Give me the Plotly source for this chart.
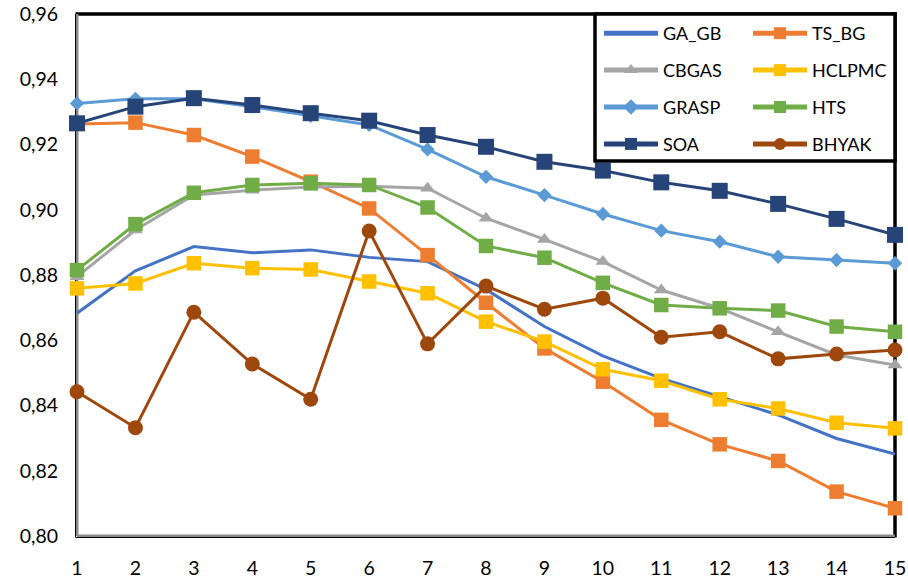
import plotly.graph_objects as go

# Instance index on the x axis
instances = list(range(1, 16))

ga_gb = [0.8683, 0.8813, 0.8887, 0.8868, 0.8877, 0.8854, 0.8841, 0.8756, 0.8642, 0.8552, 0.8483, 0.8427, 0.8371, 0.8299, 0.8251]
ts_bg = [0.9263, 0.9267, 0.9229, 0.9163, 0.9086, 0.9004, 0.8861, 0.8715, 0.8575, 0.8473, 0.8356, 0.8281, 0.8230, 0.8136, 0.8085]
cbgas = [0.8795, 0.8938, 0.9045, 0.9060, 0.9070, 0.9072, 0.9066, 0.8974, 0.8909, 0.8841, 0.8754, 0.8698, 0.8626, 0.8555, 0.8524]
hclpmc = [0.8759, 0.8774, 0.8836, 0.8821, 0.8817, 0.8780, 0.8744, 0.8657, 0.8596, 0.8511, 0.8476, 0.8419, 0.8391, 0.8347, 0.8330]
grasp = [0.9326, 0.9340, 0.9340, 0.9316, 0.9288, 0.9260, 0.9185, 0.9101, 0.9045, 0.8987, 0.8936, 0.8902, 0.8856, 0.8846, 0.8836]
hts = [0.8815, 0.8956, 0.9052, 0.9076, 0.9081, 0.9076, 0.9007, 0.8889, 0.8853, 0.8776, 0.8708, 0.8698, 0.8691, 0.8642, 0.8626]
soa = [0.9265, 0.9316, 0.9342, 0.9321, 0.9296, 0.9273, 0.9229, 0.9193, 0.9147, 0.9120, 0.9084, 0.9058, 0.9018, 0.8972, 0.8923]
bhyak = [0.8442, 0.8332, 0.8686, 0.8527, 0.8419, 0.8935, 0.8589, 0.8766, 0.8695, 0.8729, 0.8609, 0.8626, 0.8543, 0.8558, 0.8570]

y_ticks = [0.80, 0.82, 0.84, 0.86, 0.88, 0.90, 0.92, 0.94, 0.96]

FONT = "Lato"

# name, values, colour, marker symbol, marker size, legend id
series = [
    ("GA_GB", ga_gb, "#4472C4", None, 0, "legend"),
    ("TS_BG", ts_bg, "#ED7D31", "square", 14.5, "legend2"),
    ("CBGAS", cbgas, "#A5A5A5", "triangle-up", 13, "legend"),
    ("HCLPMC", hclpmc, "#FFC000", "square", 14.5, "legend2"),
    ("GRASP", grasp, "#5B9BD5", "diamond", 11, "legend"),
    ("HTS", hts, "#70AD47", "square", 14.5, "legend2"),
    ("SOA", soa, "#264478", "square", 16, "legend"),
    ("BHYAK", bhyak, "#9E480E", "circle", 15, "legend2"),
]

fig = go.Figure()
for name, vals, color, symbol, msize, leg in series:
    kw = dict(mode="lines")
    if symbol:
        kw = dict(mode="lines+markers",
                  marker=dict(symbol=symbol, size=msize, color=color,
                              line=dict(width=0)))
    fig.add_trace(go.Scatter(
        x=instances, y=vals, name=name, legend=leg, legendgroup=name,
        line=dict(color=color, width=3), cliponaxis=False, **kw))

px_x = 1 / 818.0
px_y = 1 / 522.0

shapes = [
    # white legend panel with heavy border
    dict(type="rect", xref="paper", yref="paper",
         x0=(595 - 77) * px_x, x1=1.0, y0=(536 - 161) * px_y, y1=1.0,
         fillcolor="white", line=dict(color="black", width=3.5), layer="above"),
    # top and right frame
    dict(type="line", xref="paper", yref="paper", x0=-1.5 * px_x, x1=1 + 1.5 * px_x,
         y0=1, y1=1, line=dict(color="black", width=3.5), layer="below"),
    dict(type="line", xref="paper", yref="paper", x0=1, x1=1,
         y0=-1.5 * px_y, y1=1 + 1.5 * px_y, line=dict(color="black", width=3.5), layer="below"),
    # left and bottom frame: double rule
    dict(type="line", xref="paper", yref="paper", x0=0, x1=0,
         y0=0, y1=1, line=dict(color="#8a8a8a", width=3), layer="below"),
    dict(type="line", xref="paper", yref="paper", x0=-1.5 * px_x, x1=-1.5 * px_x,
         y0=-1.5 * px_y, y1=1, line=dict(color="black", width=1), layer="below"),
    dict(type="line", xref="paper", yref="paper", x0=0, x1=1,
         y0=0, y1=0, line=dict(color="#8a8a8a", width=3), layer="below"),
    dict(type="line", xref="paper", yref="paper", x0=-1.5 * px_x, x1=1,
         y0=-1.5 * px_y, y1=-1.5 * px_y, line=dict(color="black", width=1), layer="below"),
]

legend_common = dict(
    orientation="v", traceorder="grouped", tracegroupgap=10.5,
    bgcolor="rgba(0,0,0,0)", borderwidth=0, itemwidth=54,
    itemsizing="constant", xanchor="left", yanchor="top",
    font=dict(family=FONT, size=18, color="#000000"),
)

fig.update_layout(
    width=908, height=582,
    margin=dict(l=77, r=13, t=14, b=46, autoexpand=False),
    paper_bgcolor="white", plot_bgcolor="white",
    separators=", ",
    font=dict(family=FONT, size=20, color="#000000"),
    showlegend=True,
    legend=dict(x=(599 - 77) * px_x, y=1 - 1 * px_y, **legend_common),
    legend2=dict(x=(748 - 77) * px_x, y=1 - 1 * px_y, **legend_common),
    xaxis=dict(range=[1, 15], tickmode="array", tickvals=instances,
               ticktext=[str(i) for i in instances], automargin=False,
               showgrid=False, zeroline=False, showline=False, ticks="",
               ticklabelstandoff=18,
               tickfont=dict(family=FONT, size=19.5, color="#000000")),
    yaxis=dict(range=[0.80, 0.96], tickmode="array", tickvals=y_ticks,
               ticktext=[f"{v:.2f}".replace(".", ",") for v in y_ticks],
               automargin=False,
               showgrid=False, zeroline=False, showline=False, ticks="",
               ticklabelstandoff=18,
               tickfont=dict(family=FONT, size=19.5, color="#000000")),
    shapes=shapes,
)

fig.write_html("out.html")
